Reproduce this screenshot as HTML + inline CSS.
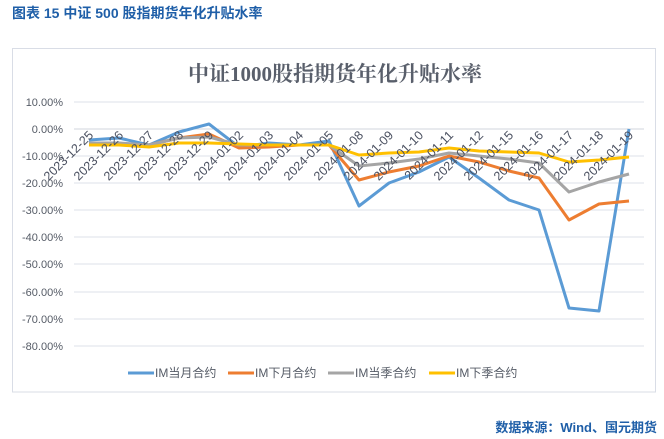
<!DOCTYPE html>
<html><head><meta charset="utf-8"><style>
body{margin:0;background:#fff;}
svg{display:block;font-family:"Liberation Sans","Noto Sans CJK SC",sans-serif;}
</style></head><body>
<svg width="664" height="439" viewBox="0 0 664 439" xmlns="http://www.w3.org/2000/svg">
<text x="12" y="18" font-size="14" font-weight="bold" fill="#1f5fa8">图表 15  中证 500 股指期货年化升贴水率</text>
<rect x="12.5" y="48.5" width="643" height="343.5" fill="#fff" stroke="#d9dde6"/>
<text x="335" y="81" text-anchor="middle" font-size="21" font-weight="bold" fill="#595f6b" font-family="'Liberation Serif','Noto Serif CJK SC',serif">中证1000股指期货年化升贴水率</text>
<g stroke="#dde1e8" stroke-width="1">
<line x1="74" x2="644" y1="102" y2="102"/>
<line x1="74" x2="644" y1="156" y2="156"/><line x1="74" x2="644" y1="183" y2="183"/>
<line x1="74" x2="644" y1="210" y2="210"/><line x1="74" x2="644" y1="237" y2="237"/>
<line x1="74" x2="644" y1="264" y2="264"/><line x1="74" x2="644" y1="292" y2="292"/>
<line x1="74" x2="644" y1="319" y2="319"/><line x1="74" x2="644" y1="346" y2="346"/>
<line x1="74" x2="644" y1="129" y2="129" stroke="#d0d4dc"/>
</g>
<g font-size="11" fill="#555b66" text-anchor="end">
<text x="63" y="106">10.00%</text><text x="63" y="133">0.00%</text><text x="63" y="160">-10.00%</text>
<text x="63" y="187">-20.00%</text><text x="63" y="214">-30.00%</text><text x="63" y="241">-40.00%</text>
<text x="63" y="268">-50.00%</text><text x="63" y="296">-60.00%</text><text x="63" y="323">-70.00%</text>
<text x="63" y="350">-80.00%</text>
</g>
<g fill="none" stroke-width="3" stroke-linejoin="round">
<polyline stroke="#5b9bd5" points="89,140 119,138 149,145 179,132 209,124 239,147 269,143 299,145 329,141 359,206 389,183 419,172 449,157 479,178 509,200 539,210 569,308 599,311 629,129"/>
<polyline stroke="#ed7d31" points="89,144 119,144 149,145 179,138 209,134 239,148 269,147 299,145 329,145 359,180 389,172 419,166 449,156 479,162 509,171 539,178 569,220 599,204 629,201"/>
<polyline stroke="#a5a5a5" points="89,143 119,143 149,145 179,138 209,137 239,145 269,145 299,145 329,145 359,166 389,163 419,159 449,153 479,156 509,159 539,163 569,192 599,182 629,174"/>
<polyline stroke="#ffc000" points="89,145 119,145 149,147 179,143 209,143 239,144 269,145 299,145 329,145 359,155 389,153 419,152 449,148 479,151 509,152 539,153 569,162 599,160 629,157"/>
</g>
<g font-size="12.5" fill="#4a5060" text-anchor="end">
<text transform="translate(94,136) rotate(-45)">2023-12-25</text>
<text transform="translate(124,136) rotate(-45)">2023-12-26</text>
<text transform="translate(154,136) rotate(-45)">2023-12-27</text>
<text transform="translate(184,136) rotate(-45)">2023-12-28</text>
<text transform="translate(214,136) rotate(-45)">2023-12-29</text>
<text transform="translate(244,136) rotate(-45)">2024-01-02</text>
<text transform="translate(274,136) rotate(-45)">2024-01-03</text>
<text transform="translate(304,136) rotate(-45)">2024-01-04</text>
<text transform="translate(334,136) rotate(-45)">2024-01-05</text>
<text transform="translate(364,136) rotate(-45)">2024-01-08</text>
<text transform="translate(394,136) rotate(-45)">2024-01-09</text>
<text transform="translate(424,136) rotate(-45)">2024-01-10</text>
<text transform="translate(454,136) rotate(-45)">2024-01-11</text>
<text transform="translate(484,136) rotate(-45)">2024-01-12</text>
<text transform="translate(514,136) rotate(-45)">2024-01-15</text>
<text transform="translate(544,136) rotate(-45)">2024-01-16</text>
<text transform="translate(574,136) rotate(-45)">2024-01-17</text>
<text transform="translate(604,136) rotate(-45)">2024-01-18</text>
<text transform="translate(634,136) rotate(-45)">2024-01-19</text>
</g>
<g stroke-width="3">
<line x1="128" x2="154" y1="373" y2="373" stroke="#5b9bd5"/>
<line x1="228" x2="254" y1="373" y2="373" stroke="#ed7d31"/>
<line x1="328" x2="354" y1="373" y2="373" stroke="#a5a5a5"/>
<line x1="429" x2="455" y1="373" y2="373" stroke="#ffc000"/>
</g>
<g font-size="12" fill="#555b66">
<text x="155" y="377">IM当月合约</text><text x="255" y="377">IM下月合约</text>
<text x="355" y="377">IM当季合约</text><text x="456" y="377">IM下季合约</text>
</g>
<text x="657" y="432" text-anchor="end" font-size="13" font-weight="bold" fill="#1f5fa8">数据来源：Wind、国元期货</text>
</svg>
</body></html>
